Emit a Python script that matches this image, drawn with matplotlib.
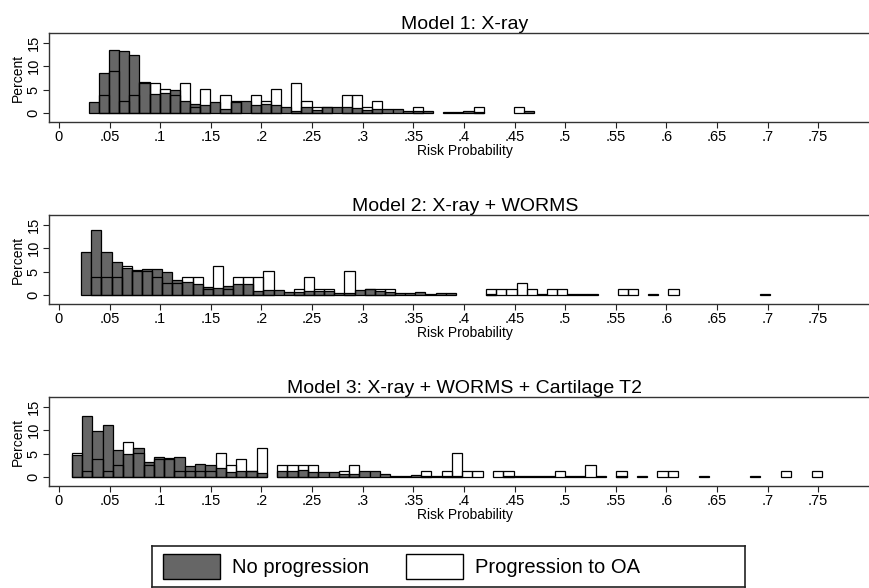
import numpy as np
import matplotlib
matplotlib.use("Agg")
import matplotlib.pyplot as plt
from matplotlib.patches import Patch

plt.rcParams['font.family'] = ['Liberation Sans', 'DejaVu Sans']

# --- data (percent per bin) ---
titles = ["Model 1: X-ray",
          "Model 2: X-ray + WORMS",
          "Model 3: X-ray + WORMS + Cartilage T2"]
bin_start = [0.0295, 0.022, 0.0126]
bin_width = [0.0100, 0.0100, 0.01015]

# Model 1
grey1 = [2.3, 8.6, 13.4, 13.2, 12.4, 6.7, 4.1, 4.3, 5.0, 2.6,
         1.9, 1.7, 2.4, 0.9, 2.3, 2.6, 1.7, 1.9, 1.7, 1.4,
         0.5, 1.4, 0.7, 1.3, 1.3, 1.3, 1.0, 0.7, 0.9, 0.9,
         0.8, 0.5, 0.5, 0.4, 0, 0.2, 0.2, 0.4, 0.2, 0,
         0, 0, 0, 0.4]
white1 = [0, 3.8, 9.0, 2.6, 3.8, 6.4, 6.4, 5.1, 3.8, 6.4,
          1.3, 5.1, 0, 3.8, 2.6, 0, 3.8, 2.6, 5.1, 0,
          6.4, 2.6, 1.3, 1.3, 0, 3.8, 3.8, 1.3, 2.6, 0,
          0, 0, 1.3, 0, 0, 0, 0, 0, 1.3, 0,
          0, 0, 1.3, 0]

# Model 2
grey2 = [9.3, 13.9, 9.3, 7.1, 5.7, 5.4, 5.6, 5.6, 4.9, 3.2,
         2.7, 2.4, 1.8, 1.5, 2.0, 2.4, 2.4, 0.9, 1.1, 1.1,
         0.7, 0.7, 0.9, 0.8, 0.9, 0.5, 0.5, 1.1, 1.4, 0.9,
         0.7, 0.5, 0.5, 0.6, 0.2, 0.4, 0.4, 0, 0, 0,
         0.2, 0, 0, 0, 0, 0.2, 0, 0, 0.2, 0.2,
         0.2, 0, 0, 0, 0, 0, 0.2, 0, 0, 0,
         0, 0, 0, 0, 0, 0, 0, 0.2]
white2 = [0, 3.8, 3.8, 3.8, 6.3, 5.1, 5.1, 3.8, 2.5, 2.5,
          3.8, 3.8, 1.3, 6.3, 1.3, 3.8, 3.8, 3.8, 5.1, 0,
          0, 1.3, 3.8, 1.3, 1.3, 0, 5.1, 0, 1.3, 1.3,
          1.3, 0, 0, 0, 0, 0, 0, 0, 0, 0,
          1.3, 1.3, 1.3, 2.6, 1.3, 0, 1.3, 1.3, 0, 0,
          0, 0, 0, 1.3, 1.3, 0, 0, 0, 1.3, 0,
          0, 0, 0, 0, 0, 0, 0, 0]

# Model 3
grey3 = [4.8, 13.1, 9.9, 11.1, 5.8, 5.0, 6.3, 3.3, 4.3, 4.0,
         4.3, 2.4, 2.7, 2.5, 1.9, 1.1, 1.3, 1.4, 0.9, 0,
         1.4, 1.4, 1.6, 1.1, 1.0, 1.0, 0.6, 0.6, 1.3, 1.3,
         0.7, 0.2, 0.2, 0.5, 0.2, 0.2, 0.2, 0.2, 0, 0,
         0, 0, 0.2, 0.2, 0.2, 0.2, 0.2, 0, 0.2, 0.2,
         0, 0.2, 0, 0.2, 0, 0.2, 0, 0, 0, 0,
         0, 0.2, 0, 0, 0, 0, 0.2, 0, 0, 0,
         0, 0, 0]
white3 = [5.1, 1.3, 3.8, 1.3, 2.5, 7.6, 5.1, 2.5, 3.8, 3.8,
          1.3, 1.3, 1.3, 1.3, 5.1, 2.5, 3.8, 1.3, 6.3, 0,
          2.5, 2.5, 2.5, 2.5, 0, 0, 1.3, 2.5, 0, 0,
          0, 0, 0, 0, 1.3, 0, 1.3, 5.1, 1.3, 1.3,
          0, 1.3, 1.3, 0, 0, 0, 0, 1.3, 0, 0,
          2.5, 0, 0, 1.3, 0, 0, 0, 1.3, 1.3, 0,
          0, 0, 0, 0, 0, 0, 0, 0, 0, 1.3,
          0, 0, 1.3]

greys = [grey1, grey2, grey3]
whites = [white1, white2, white3]

xticks = [0, .05, .1, .15, .2, .25, .3, .35, .4, .45, .5, .55, .6, .65, .7, .75]
xticklabels = ["0", ".05", ".1", ".15", ".2", ".25", ".3", ".35", ".4",
               ".45", ".5", ".55", ".6", ".65", ".7", ".75"]
yticks = [0, 5, 10, 15]
legend_labels = ["No progression", "Progression to OA"]

GREY = "#666666"
W, H = 870, 588


def draw_panel(ax, start, width, grey, white, title):
    grey = np.array(grey, dtype=float)
    white = np.array(white, dtype=float)
    left = start + width * np.arange(len(grey))
    g = grey > 0
    ax.bar(left[g], grey[g], width=width, align='edge', color=GREY,
           edgecolor='black', linewidth=0.9, zorder=2)
    w = white > 0
    ax.bar(left[w], white[w], width=width, align='edge', facecolor='none',
           edgecolor='black', linewidth=0.9, zorder=3)

    ax.set_xlim(-0.0098, 0.812)
    ax.set_ylim(-1.9, 17.1)
    ax.set_xticks(xticks)
    ax.set_xticklabels(xticklabels)
    ax.set_yticks(yticks)
    plt.setp(ax.get_yticklabels(), rotation=90, va='center')
    ax.tick_params(direction='out', length=4, width=0.8, labelsize=10.5,
                   pad=2, color='#222222')
    ax.set_xlabel("Risk Probability", fontsize=10, labelpad=0)
    ax.set_ylabel("Percent", fontsize=10, labelpad=1)
    ax.set_title(title, fontsize=14, pad=1.5)
    for side in ['left', 'bottom', 'top']:
        ax.spines[side].set_color('#333333')
        ax.spines[side].set_linewidth(1.0)
    ax.spines['right'].set_visible(False)


def main():
    fig = plt.figure(figsize=(W / 100, H / 100), dpi=100)
    fig.patch.set_facecolor('white')

    tops = [33, 215, 397]
    for i in range(3):
        ax = fig.add_axes([49 / W, 1 - (tops[i] + 89) / H, 832 / W, 89 / H])
        draw_panel(ax, bin_start[i], bin_width[i], greys[i], whites[i], titles[i])

    # legend box
    lax = fig.add_axes([152 / W, 1 - 587 / H, 593 / W, 41 / H])
    lax.set_xticks([])
    lax.set_yticks([])
    for s in lax.spines.values():
        s.set_color('#222222')
        s.set_linewidth(1.2)
    handles = [Patch(facecolor=GREY, edgecolor='black', linewidth=1.0),
               Patch(facecolor='white', edgecolor='black', linewidth=1.0)]
    lax.legend(handles, legend_labels, loc='center left',
               bbox_to_anchor=(11 / 593, 0.5), ncol=2, frameon=False,
               fontsize=14.5, handlelength=2.85, handleheight=1.5,
               handletextpad=0.6, columnspacing=1.8, borderpad=0,
               borderaxespad=0)

    fig.savefig("out.png", dpi=100, facecolor='white')


if __name__ == "__main__":
    main()
